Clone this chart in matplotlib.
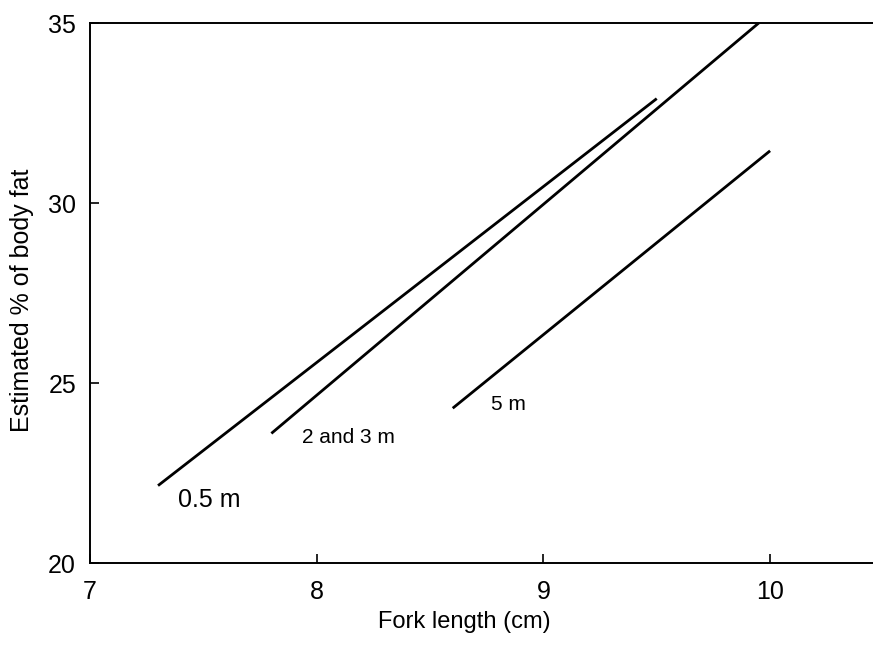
import matplotlib
matplotlib.use("Agg")
import matplotlib.pyplot as plt

# Fitted regression lines of body fat against fork length, by depth
depths = ["0.5 m", "2 and 3 m", "5 m"]
x_start = [7.3, 7.8, 8.6]
x_end = [9.5, 9.95, 10.0]
y_start = [22.15, 23.6, 24.3]
y_end = [32.9, 35.0, 31.45]

x_ticks = [7, 8, 9, 10]
y_ticks = [20, 25, 30, 35]

plt.rcParams["font.family"] = ["Liberation Sans", "DejaVu Sans"]

fig = plt.figure(figsize=(8.73, 6.5), dpi=100)
ax = fig.add_axes([0.1031, 0.1338, 0.8969, 0.8308])

for x0, x1, y0, y1 in zip(x_start, x_end, y_start, y_end):
    ax.plot([x0, x1], [y0, y1], color="black", lw=2.0, solid_capstyle="butt")

# line labels placed just below the lower end of each line
label_pos = {"0.5 m": (7.39, 21.75, 18), "2 and 3 m": (7.935, 23.5, 15), "5 m": (8.77, 24.39, 15)}
for name in depths:
    lx, ly, fs = label_pos[name]
    ax.text(lx, ly, name, fontsize=fs, ha="left", va="center")

ax.set_xlim(7, 10.454)
ax.set_ylim(20, 35)
ax.set_xticks(x_ticks)
ax.set_yticks(y_ticks)
ax.tick_params(direction="in", length=6.5, width=1.2, labelsize=18)
ax.tick_params(axis="y", pad=10)
ax.tick_params(axis="x", pad=12)

ax.spines["right"].set_visible(False)
for s in ["left", "top", "bottom"]:
    ax.spines[s].set_linewidth(1.4)

ax.set_xlabel("Fork length (cm)", fontsize=17)
ax.set_ylabel("Estimated % of body fat", fontsize=18)
ax.xaxis.set_label_coords(0.478, -0.088)
ax.yaxis.set_label_coords(-0.072, 0.487)

fig.savefig("out.png", dpi=100)
